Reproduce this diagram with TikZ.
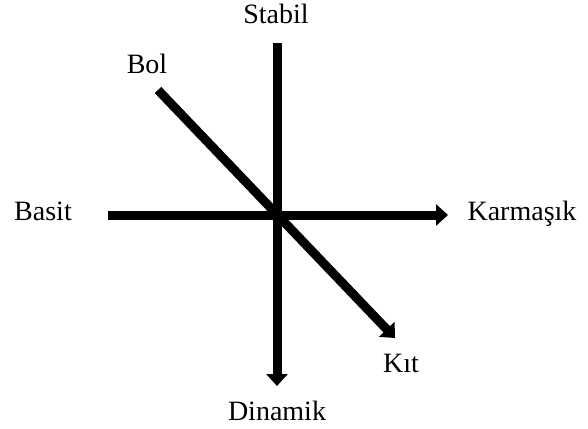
\documentclass[tikz,border=0pt]{standalone}
\usepackage{fontspec}
\setmainfont{Liberation Serif}
\usetikzlibrary{arrows.meta}
\begin{document}
\begin{tikzpicture}[
  x=1pt, y=-1pt,
  font=\fontsize{28}{34}\selectfont,
  etichetta/.style={anchor=base, inner sep=0pt},
  asse/.style={draw=black, line width=9pt,
               -{Triangle[width=21pt,length=12pt]}},
  diagonale/.style={asse}
]
\useasboundingbox (0,0) rectangle (588,428);

% ---- estremi degli assi --------------------------------------------
\coordinate (alto)   at (277,43);
\coordinate (basso)  at (277,386);
\coordinate (sx)     at (108,215);
\coordinate (dx)     at (448,215);
\coordinate (diagA)  at (158,90);
\coordinate (diagB)  at (395,338);

% ---- etichette -----------------------------------------------------
\node[etichetta] (stabil)   at (276,24)  {Stabil};
\node[etichetta] (dinamik)  at (277,420) {Dinamik};
\node[etichetta] (basit)    at (43,220)  {Basit};
\node[etichetta] (karmasik) at (522,220) {Karmaşık};
\node[etichetta] (bol)      at (147,73)  {Bol};
\node[etichetta] (kit)      at (401,372) {Kıt};

% ---- assi ----------------------------------------------------------
\draw[asse] (alto) -- (basso);
\draw[asse] (sx) -- (dx);
\draw[diagonale] (diagA) -- (diagB);

\end{tikzpicture}
\end{document}
